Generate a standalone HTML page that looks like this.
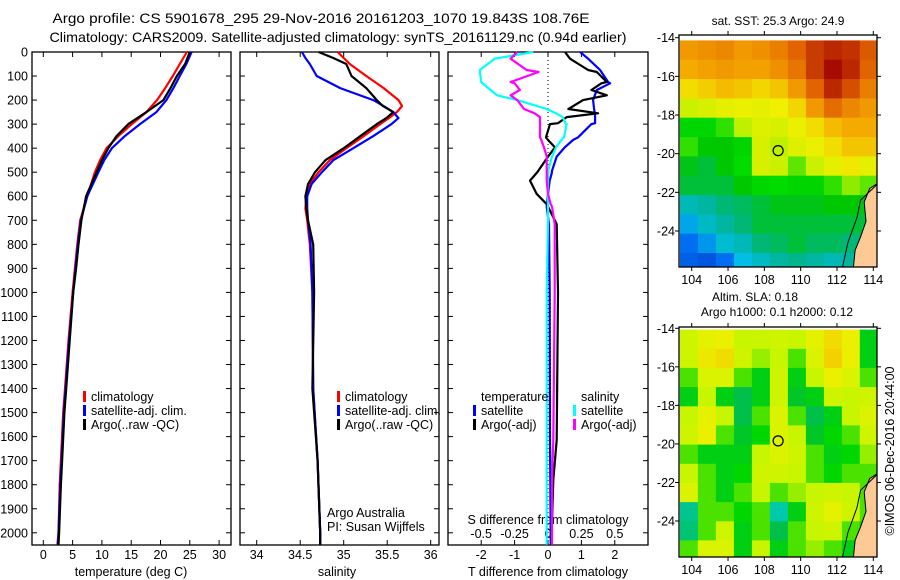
<!DOCTYPE html>
<html><head><meta charset="utf-8"><style>
html,body{margin:0;padding:0;background:#fff;}
svg{display:block;font-family:"Liberation Sans",sans-serif;}
</style></head><body>
<svg id="s" width="900" height="580" viewBox="0 0 900 580" xmlns="http://www.w3.org/2000/svg">
<defs>
<clipPath id="c1"><rect x="679" y="35" width="198" height="232"/></clipPath>
<clipPath id="c2"><rect x="679" y="327" width="198" height="230"/></clipPath>
</defs>
<text x="321" y="23" font-size="14" text-anchor="middle" textLength="537" lengthAdjust="spacingAndGlyphs">Argo profile: CS 5901678_295 29-Nov-2016 20161203_1070 19.843S 108.76E</text>
<text x="338" y="42" font-size="14" text-anchor="middle" textLength="577" lengthAdjust="spacingAndGlyphs">Climatology: CARS2009. Satellite-adjusted climatology: synTS_20161129.nc (0.94d earlier)</text>
<g id="g"></g>
</svg>
<script>
// ---------- data ----------
const depthT=[0,50,100,150,200,250,300,350,400,450,500,600,700,800,900,1000,1200,1400,1500,1700,1800,2000,2050];
const tempClim=[24.5,23.3,22.1,20.8,19.4,17.6,15.1,12.8,10.8,9.7,8.8,7.5,6.3,5.8,5.4,5.0,4.3,3.7,3.4,3.0,2.8,2.6,2.4];
const tempSat=[25.3,24.4,23.3,22.2,21.0,19.3,16.5,13.9,11.7,10.4,9.4,7.5,6.4,5.9,5.5,5.1,4.4,3.8,3.5,3.1,2.9,2.6,2.5];
const tempArgo=[25.0,24.2,22.8,21.7,20.5,17.6,14.5,12.5,11.1,10.0,9.1,7.3,6.5,6.0,5.6,5.1,4.5,3.9,3.6,3.2,3.0,2.7,2.6];
const depthS=[0,25,50,100,150,200,225,250,275,300,350,400,450,500,550,600,650,700,800,1000,1400,1700,2000,2050];
const salClim=[34.93,35.0,35.07,35.26,35.46,35.63,35.67,35.61,35.52,35.42,35.23,35.03,34.84,34.71,34.61,34.57,34.56,34.58,34.61,34.64,34.65,34.70,34.73,34.73];
const salSat=[34.52,34.56,34.61,34.69,34.96,35.34,35.46,35.57,35.63,35.55,35.34,35.11,34.88,34.75,34.63,34.58,34.58,34.59,34.62,34.64,34.65,34.70,34.73,34.73];
const salArgo=[34.71,34.88,35.03,35.09,35.26,35.38,35.45,35.57,35.49,35.38,35.19,35.00,34.79,34.67,34.59,34.56,34.57,34.59,34.65,34.66,34.64,34.70,34.73,34.73];
const depthD=[0,28,75,83,125,130,158,180,200,237,255,271,296,300,355,366,397,435,494,505,535,590,633,643,716,1000,1614,1780,2050];
const dTsat=[0.96,1.2,1.56,1.6,1.8,1.86,1.46,1.4,1.35,1.38,1.4,1.41,1.41,1.3,0.9,0.75,0.5,0.26,0.12,0.11,0.05,0.0,-0.03,-0.04,0.03,0.05,0.06,0.07,0.08];
const dTargo=[0.51,0.66,1.2,1.46,1.76,1.6,1.3,1.76,1.05,0.61,1.5,0.56,0.3,0.06,-0.06,0.0,0.21,0.0,-0.29,-0.35,-0.54,-0.34,-0.04,0.0,0.26,0.3,0.26,0.16,0.1];
const dSsat=[-0.11,-0.40,-0.51,-0.51,-0.50,-0.49,-0.43,-0.38,-0.23,-0.01,0.06,0.11,0.13,0.14,0.12,0.10,0.06,0.03,0.0,0.0,0.0,0.0,0.0,0.0,0.0,-0.01,-0.01,-0.01,-0.01];
const dSargo=[-0.23,-0.28,-0.16,-0.07,-0.28,-0.25,-0.21,-0.28,-0.23,-0.18,-0.1,-0.06,-0.06,-0.06,-0.06,-0.05,-0.03,-0.01,-0.01,-0.01,-0.01,0.0,0.02,0.03,0.05,0.05,0.04,0.03,0.03];
const depthTicks=[0,100,200,300,400,500,600,700,800,900,1000,1100,1200,1300,1400,1500,1600,1700,1800,1900,2000];
const tempTicks=[0,5,10,15,20,25,30];
const salTicks=[34,34.5,35,35.5,36];
const salTickLabels=['34','34.5','35','35.5','36'];
const tdTicks=[-2,-1,0,1,2];
const sdTicks=[-0.5,-0.25,0,0.25,0.5];
const sdTickLabels=['-0.5','-0.25','0','0.25','0.5'];
const lonTicks=[104,106,108,110,112,114];
const latTicks=[-14,-16,-18,-20,-22,-24];
const argoLon=108.76, argoLat=-19.843;
const sstGrid=[
[.84,.85,.86,.84,.85,.87,.90,.94,.96,.95,.91],
[.82,.83,.84,.83,.83,.85,.88,.94,.99,.96,.90],
[.76,.78,.80,.79,.77,.79,.84,.90,.96,.92,.87],
[.68,.70,.72,.73,.72,.74,.77,.84,.89,.86,.84],
[.56,.56,.60,.66,.71,.70,.73,.76,.80,.82,.82],
[.60,.50,.50,.55,.70,.66,.71,.73,.76,.79,.79],
[.48,.45,.50,.58,.70,.68,.62,.68,.72,.75,.72],
[.45,.45,.45,.50,.56,.58,.55,.55,.60,.64,.62],
[.32,.35,.40,.42,.45,.48,.48,.48,.50,.50,.48],
[.22,.30,.35,.40,.45,.45,.45,.45,.45,.45,.45],
[.15,.20,.28,.32,.40,.42,.45,.42,.42,.40,.42],
[.12,.10,.15,.25,.30,.35,.38,.35,.32,.35,.40]];
const slaGrid=[
[.62,.68,.70,.60,.60,.62,.60,.68,.75,.70,.50],
[.62,.72,.75,.62,.58,.60,.55,.65,.78,.70,.50],
[.55,.65,.65,.55,.50,.62,.50,.60,.70,.65,.55],
[.50,.60,.50,.45,.50,.62,.48,.50,.62,.60,.62],
[.60,.68,.60,.45,.55,.65,.55,.45,.50,.60,.65],
[.62,.70,.55,.48,.52,.65,.60,.48,.52,.55,.62],
[.55,.50,.50,.50,.60,.65,.62,.55,.50,.52,.58],
[.60,.55,.50,.52,.62,.62,.60,.55,.52,.55,.55],
[.65,.55,.50,.55,.60,.55,.58,.60,.62,.60,.55],
[.40,.55,.55,.52,.55,.38,.50,.62,.68,.62,.55],
[.42,.55,.62,.50,.55,.45,.55,.60,.62,.55,.50],
[.55,.65,.65,.50,.60,.50,.55,.58,.55,.50,.50]];
const landLon=[114.3,113.8,113.5,113.6,113.3,113.0,112.9,114.3];
const landLat=[-21.5,-21.8,-22.5,-23.5,-24.3,-25.0,-25.95,-25.95];

// ---------- helpers ----------
const NS='http://www.w3.org/2000/svg';
const G=document.getElementById('g');
function mk(tag,attrs,parent){const e=document.createElementNS(NS,tag);for(const k in attrs)e.setAttribute(k,attrs[k]);(parent||G).appendChild(e);return e;}
function txt(x,y,s,size,anchor){const t=mk('text',{x:x,y:y,'font-size':size||12.5,'text-anchor':anchor||'middle'});t.textContent=s;return t;}
const yD=d=>52+d*0.2404;
const panels=[{x0:32,x1:231},{x0:240,x1:439},{x0:448,x1:648}];
const xT=v=>43.3+v*5.86;
const xS=v=>256.7+(v-34)*87;
const xTd=v=>548+v*33.4;
const xSd=v=>548+v*133.6;
const yTop=52,yBot=545;

panels.forEach((p,i)=>{const r=mk('rect',{x:p.x0,y:yTop,width:p.x1-p.x0,height:yBot-yTop,fill:'none',stroke:'#000','stroke-width':1.3});


depthTicks.forEach(d=>{mk('line',{x1:p.x0,x2:p.x0+5,y1:yD(d),y2:yD(d),stroke:'#000'});mk('line',{x1:p.x1-5,x2:p.x1,y1:yD(d),y2:yD(d),stroke:'#000'});});
});
depthTicks.forEach(d=>{const t=txt(28,yD(d)+4.5,String(d),12.5,'end');

});
function xticks(ticks,labels,fx,ylab,top){ticks.forEach((v,i)=>{const x=fx(v);
mk('line',{x1:x,x2:x,y1:yBot-5,y2:yBot,stroke:'#000'});
if(top)mk('line',{x1:x,x2:x,y1:yTop,y2:yTop+5,stroke:'#000'});
const t=txt(x,ylab,labels[i],12.5);

});}
xticks(tempTicks,tempTicks.map(String),xT,559,true);
xticks(salTicks,salTickLabels,xS,559,true);
xticks(tdTicks,tdTicks.map(String),xTd,559,true);
sdTicks.forEach((v,i)=>{const t=txt(xSd(v),538,sdTickLabels[i],12.5);

});
let t;
t=txt(131,576,'temperature (deg C)',12.5);
t=txt(337,576,'salinity',12.5);
t=txt(548,576,'T difference from climatology',12.5);
t=txt(548,524,'S difference from climatology',12.5);
const zl=mk('line',{x1:548,x2:548,y1:yTop,y2:yBot,stroke:'#000','stroke-dasharray':'1,3'});



function line(depths,vals,fx,color,name){const pts=depths.map((d,i)=>fx(vals[i]).toFixed(1)+','+yD(d).toFixed(1)).join(' ');
const l=mk('polyline',{points:pts,fill:'none',stroke:color,'stroke-width':2.2,'stroke-linejoin':'round'});

}
line(depthT,tempClim,xT,'#f00','temp-climatology-line');
line(depthT,tempSat,xT,'#00f','temp-satellite-line');
line(depthT,tempArgo,xT,'#000','temp-argo-line');
line(depthS,salClim,xS,'#f00','sal-climatology-line');
line(depthS,salSat,xS,'#00f','sal-satellite-line');
line(depthS,salArgo,xS,'#000','sal-argo-line');
line(depthD,dTsat,xTd,'#00f','tdiff-satellite-line');
line(depthD,dTargo,xTd,'#000','tdiff-argo-line');
line(depthD,dSsat,xSd,'#0ff','sdiff-satellite-line');
line(depthD,dSargo,xSd,'#f0f','sdiff-argo-line');

function legend(x,y,color,label,name){const r=mk('rect',{x:x,y:y-10,width:3,height:11,fill:color});


const tt=txt(x+8,y,label,12.5,'start');

}
legend(83,401,'#f00','climatology','legend-climatology');
legend(83,415,'#00f','satellite-adj. clim.','legend-satellite-adj');
legend(83,429,'#000','Argo(..raw -QC)','legend-argo');
legend(337,401,'#f00','climatology','legend-climatology-2');
legend(337,415,'#00f','satellite-adj. clim.','legend-satellite-adj-2');
legend(337,429,'#000','Argo(..raw -QC)','legend-argo-2');
t=txt(481,401,'temperature',12.5,'start');
t=txt(581,401,'salinity',12.5,'start');
legend(473,415,'#00f','satellite','legend-t-satellite');
legend(473,429,'#000','Argo(-adj)','legend-t-argo');
legend(573,415,'#0ff','satellite','legend-s-satellite');
legend(573,429,'#f0f','Argo(-adj)','legend-s-argo');
t=txt(327,517,'Argo Australia',12.5,'start');
t=txt(327,531,'PI: Susan Wijffels',12.5,'start');

// ---------- maps ----------
const sstStops=[[0,[0,40,190]],[0.15,[0,110,240]],[0.25,[0,190,230]],[0.38,[0,180,140]],[0.5,[0,200,0]],[0.58,[0,220,0]],[0.66,[190,240,0]],[0.74,[240,240,0]],[0.82,[245,170,0]],[0.9,[225,100,0]],[1,[160,0,0]]];
const slaStops=[[0,[0,40,190]],[0.38,[0,200,170]],[0.46,[0,190,60]],[0.52,[0,215,0]],[0.6,[200,245,0]],[0.7,[235,240,0]],[0.8,[245,200,0]],[1,[245,150,0]]];
function cmap(stops,v){for(let i=1;i<stops.length;i++){if(v<=stops[i][0]){const a=stops[i-1],b=stops[i],f=(v-a[0])/(b[0]-a[0]);const c=a[1].map((q,k)=>Math.round(q+(b[1][k]-q)*f));return 'rgb('+c+')';}}const l=stops[stops.length-1][1];return 'rgb('+l+')';}
function drawMap(grid,stops,latTopY,latScale,yTopMap,yBotMap,name,clip){
const lonX=v=>691.7+(v-104)*18.16;
const latY=v=>latTopY+(-14-v)*latScale;
const x0=679,x1=877;
const gm=mk('g',{'clip-path':'url(#'+clip+')'});


const rows=grid.length,cols=grid[0].length;
const lon0=103.35,lonStep=(114.25-103.35)/cols;
const lat0=(-14-(latTopY-yTopMap)/latScale),latStep=((yBotMap-yTopMap)/latScale)/rows;
grid.forEach((row,r)=>row.forEach((v,c)=>{
const xa=lonX(lon0+c*lonStep),xb=lonX(lon0+(c+1)*lonStep);
const ya=latY(lat0-r*latStep),yb=latY(lat0-(r+1)*latStep);
const cell=mk('rect',{x:xa.toFixed(1),y:ya.toFixed(1),width:(xb-xa+0.6).toFixed(1),height:(yb-ya+0.6).toFixed(1),fill:cmap(stops,v)},gm);


}));
const lp=landLon.map((l,i)=>lonX(l).toFixed(1)+','+latY(landLat[i]).toFixed(1)).join(' ');
const land=mk('polygon',{points:lp,fill:'#fdc995',stroke:'#000','stroke-width':1},gm);


const cl=mk('polyline',{points:[[112.3,-25.9],[112.6,-24.6],[113.1,-23.3],[113.3,-22.4],[114.2,-21.6]].map(p=>lonX(p[0]).toFixed(1)+','+latY(p[1]).toFixed(1)).join(' '),fill:'none',stroke:'#000','stroke-width':1},gm);


const fr=mk('rect',{x:x0,y:yTopMap,width:x1-x0,height:yBotMap-yTopMap,fill:'none',stroke:'#000','stroke-width':1.3});


lonTicks.forEach(v=>{const x=lonX(v);mk('line',{x1:x,x2:x,y1:yTopMap,y2:yTopMap-4,stroke:'#000'});mk('line',{x1:x,x2:x,y1:yBotMap,y2:yBotMap+4,stroke:'#000'});
const tl=txt(x,yBotMap+17,String(v),12.5);});
latTicks.forEach(v=>{const y=latY(v);mk('line',{x1:x0,x2:x0-4,y1:y,y2:y,stroke:'#000'});mk('line',{x1:x1,x2:x1+4,y1:y,y2:y,stroke:'#000'});
const tl=txt(675,y+4.5,String(v),12.5,'end');});
const c=mk('circle',{cx:lonX(argoLon),cy:latY(argoLat),r:5,fill:'none',stroke:'#000','stroke-width':1.2});


}
drawMap(sstGrid,sstStops,37.7,19.33,35,267,'sst-map','c1');
drawMap(slaGrid,slaStops,328.3,19.27,327,557,'sla-map','c2');
t=txt(778,25,'sat. SST: 25.3 Argo: 24.9',12);
t=txt(755,301,'Altim. SLA: 0.18',12);
t=txt(777,316,'Argo h1000: 0.1 h2000: 0.12',12);
t=txt(0,0,'©IMOS 06-Dec-2016 20:44:00',12.5);t.setAttribute('transform','translate(894,451) rotate(-90)');
</script>
</body></html>
